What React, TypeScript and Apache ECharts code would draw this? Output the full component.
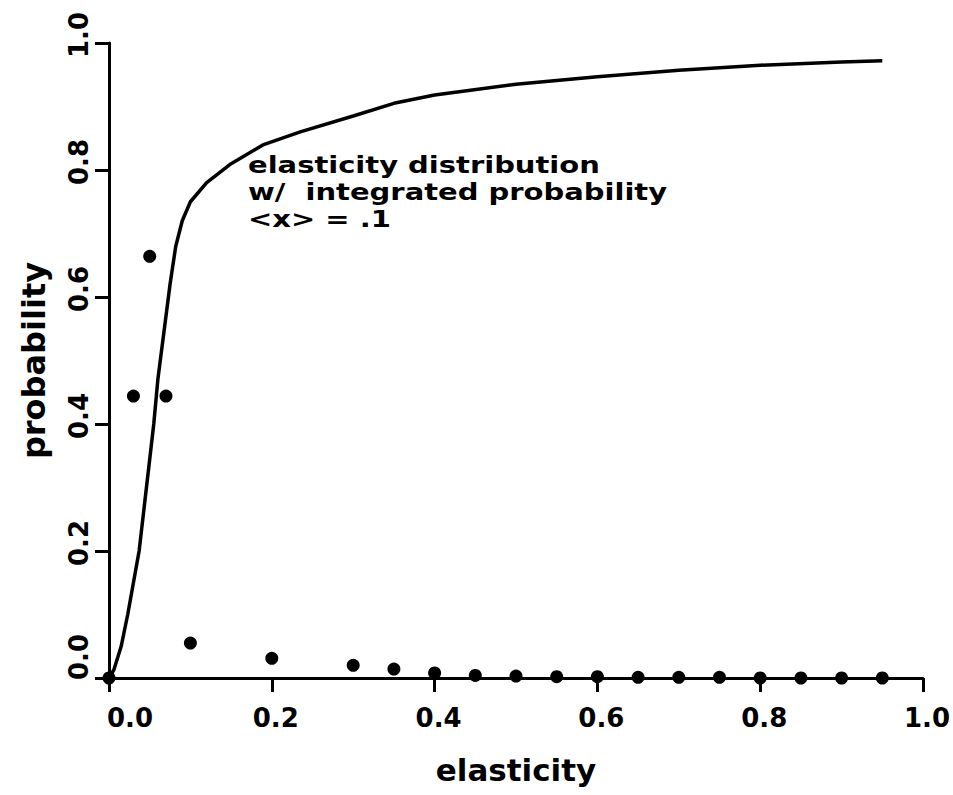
import React, { useEffect, useRef } from "react";
import * as echarts from "echarts";

// Integrated (cumulative) probability curve
const curveX = [0, 0.006, 0.015, 0.023, 0.03, 0.037, 0.046, 0.055, 0.06, 0.068, 0.075, 0.082, 0.09, 0.1, 0.12, 0.15, 0.19, 0.235, 0.3, 0.35, 0.4, 0.5, 0.6, 0.7, 0.8, 0.9, 0.95];
const curveY = [0, 0.013, 0.05, 0.1, 0.15, 0.2, 0.3, 0.4, 0.47, 0.55, 0.62, 0.68, 0.72, 0.75, 0.78, 0.81, 0.84, 0.86, 0.885, 0.905, 0.918, 0.935, 0.947, 0.957, 0.965, 0.97, 0.972];

// Elasticity distribution points
const pointX = [0, 0.03, 0.05, 0.07, 0.1, 0.2, 0.3, 0.35, 0.4, 0.45, 0.5, 0.55, 0.6, 0.65, 0.7, 0.75, 0.8, 0.85, 0.9, 0.95];
const pointY = [0, 0.444, 0.664, 0.444, 0.055, 0.031, 0.02, 0.014, 0.008, 0.004, 0.003, 0.002, 0.002, 0.001, 0.001, 0.001, 0, 0, 0, 0];

const annotationLines = ["elasticity distribution", "w/  integrated probability", "<x> = .1"];

const FONT = "'DejaVu Sans', sans-serif";

export default function App() {
  const ref = useRef<HTMLDivElement>(null);

  useEffect(() => {
    if (!ref.current) return;
    const chart = echarts.init(ref.current, undefined, { renderer: "svg" });

    const tickLabel = (v: number) => (v === 0 ? "{z|0.0}" : v.toFixed(1));
    const labelBase = {
      color: "#000",
      fontFamily: FONT,
      fontSize: 26,
      fontWeight: "bold" as const,
    };

    const axisLine = { show: true, onZero: false, lineStyle: { color: "#000", width: 3 } };
    const axisTick = { show: true, inside: false, length: 14, lineStyle: { color: "#000", width: 3 } };
    const titleStyle = { color: "#000", fontFamily: FONT, fontSize: 31, fontWeight: "bold" as const };

    chart.setOption({
      animation: false,
      backgroundColor: "#fff",
      grid: {
        left: 109,
        right: 30,
        top: 43,
        bottom: 117,
        containLabel: false,
        outerBoundsMode: "none",
      },
      xAxis: {
        type: "value",
        min: 0,
        max: 1,
        interval: 0.2,
        name: "elasticity",
        nameLocation: "middle",
        nameGap: 76,
        nameTextStyle: titleStyle,
        axisLine,
        axisTick,
        splitLine: { show: false },
        axisLabel: {
          ...labelBase,
          margin: 27,
          padding: [0, 0, 0, 8],
          formatter: tickLabel,
          rich: { z: { ...labelBase, padding: [0, 0, 0, 34] } },
        },
      },
      yAxis: {
        type: "value",
        min: 0,
        max: 1,
        interval: 0.2,
        name: "probability",
        nameLocation: "middle",
        nameRotate: 90,
        nameGap: 59,
        nameTextStyle: { ...titleStyle, fontSize: 32 },
        axisLine,
        axisTick,
        splitLine: { show: false },
        axisLabel: {
          ...labelBase,
          rotate: 90,
          margin: 17,
          padding: [0, 0, 0, 16],
          formatter: tickLabel,
          rich: { z: { ...labelBase, padding: [0, 0, 0, 26] } },
        },
      },
      graphic: [
        {
          type: "text",
          x: 248,
          y: 151,
          scaleY: 0.82,
          style: {
            text: annotationLines.join("\n"),
            fill: "#000",
            fontFamily: FONT,
            fontSize: 29,
            fontWeight: "bold",
            lineHeight: 33,
            verticalAlign: "top",
            align: "left",
          },
          z: 10,
        },
      ],
      series: [
        {
          type: "line",
          data: curveX.map((x, i) => [x, curveY[i]]),
          showSymbol: false,
          smooth: false,
          lineStyle: { color: "#000", width: 3.5 },
          z: 3,
        },
        {
          type: "scatter",
          data: pointX.map((x, i) => [x, pointY[i]]),
          symbol: "circle",
          symbolSize: 13,
          itemStyle: { color: "#000", opacity: 1 },
          z: 4,
        },
      ],
    });

    return () => chart.dispose();
  }, []);

  return (
    <div
      ref={ref}
      style={{ position: "fixed", left: 0, top: 0, width: 953, height: 795, background: "#fff" }}
    />
  );
}
